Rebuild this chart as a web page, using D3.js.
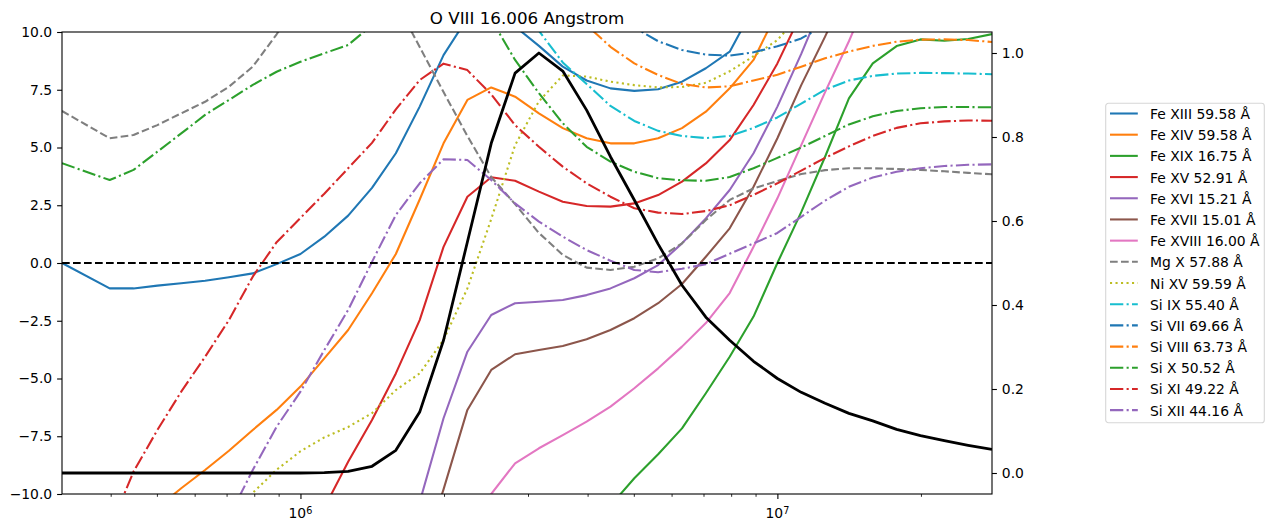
<!DOCTYPE html>
<html>
<head>
<meta charset="utf-8">
<script src="https://cdn.jsdelivr.net/npm/d3@7"></script>
<style>
body { margin: 0; background: #fff; }
svg { font-family: "DejaVu Sans", sans-serif; }
</style>
</head>
<body>
<div id="chart"></div>
<script>
const logT = [5.5, 5.6, 5.65, 5.7, 5.75, 5.8, 5.85, 5.9, 5.95, 6.0, 6.05, 6.1, 6.15, 6.2, 6.25, 6.3, 6.35, 6.4, 6.45,
    6.5, 6.55, 6.6, 6.65, 6.7, 6.75, 6.8, 6.85, 6.9, 6.95, 7.0, 7.05, 7.1, 7.15, 7.2, 7.25, 7.3, 7.35, 7.4, 7.45];

const ions = ["Fe XIII", "Fe XIV", "Fe XIX", "Fe XV", "Fe XVI", "Fe XVII", "Fe XVIII", "Mg X", "Ni XV",
    "Si IX", "Si VII", "Si VIII", "Si X", "Si XI", "Si XII"];
const wavelengths = ["59.58", "59.58", "16.75", "52.91", "15.21", "15.01", "16.00", "57.88", "59.59",
    "55.40", "69.66", "63.73", "50.52", "49.22", "44.16"];

const feXIII = [0.0, -1.10, -1.10, -0.98, -0.88, -0.77, -0.62, -0.45, -0.05, 0.39, 1.14, 2.05, 3.25, 4.75, 6.77, 9.0, 10.6, 10.9, 10.24,
    9.4, 8.5, 7.9, 7.56, 7.45, 7.52, 7.85, 8.43, 9.15, 11.06, null, null, null, null, null, null, null, null, null, null];
const feXIV = [null, null, null, -10.6, -9.75, -8.96, -8.13, -7.23, -6.36, -5.35, -4.13, -2.9, -1.31, 0.39, 2.75, 5.18, 7.06, 7.6, 7.2,
    6.48, 5.84, 5.4, 5.18, 5.18, 5.4, 5.84, 6.55, 7.56, 8.79, 10.89, null, null, null, null, null, null, null, null, null];
const feXIX = [null, null, null, null, null, null, null, null, null, null, null, null, null, null, null, null, null, null, null,
    null, null, null, -10.5, -9.32, -8.28, -7.16, -5.64, -4.06, -2.32, 0.0, 2.2, 4.6, 7.13, 8.64, 9.39, 9.68, 9.62, 9.7, 9.91];
const feXV = [null, null, null, null, null, null, null, null, null, null, -10.6, -8.6, -6.8, -4.78, -2.47, 0.7, 2.87, 3.71, 3.56,
    3.09, 2.65, 2.47, 2.44, 2.58, 2.94, 3.52, 4.31, 5.32, 6.84, 8.64, 10.8, null, null, null, null, null, null, null, null];
const feXVI = [null, null, null, null, null, null, null, null, null, null, null, null, null, null, -10.35, -6.72, -3.84, -2.25, -1.74,
    -1.68, -1.6, -1.39, -1.1, -0.66, -0.09, 0.85, 1.93, 3.16, 4.75, 6.77, 9.05, 11.5, null, null, null, null, null, null, null];
const feXVII = [null, null, null, null, null, null, null, null, null, null, null, null, null, null, -13.0, -9.8, -6.36, -4.63, -3.95,
    -3.77, -3.59, -3.3, -2.9, -2.39, -1.74, -0.91, 0.27, 1.5, 3.3, 5.4, 7.7, 9.8, 12.0, null, null, null, null, null, null];
const feXVIII = [null, null, null, null, null, null, null, null, null, null, null, null, null, null, null, null, -12.5, -10.0, -8.67,
    -8.02, -7.45, -6.87, -6.22, -5.42, -4.56, -3.62, -2.6, -1.3, 0.7, 2.8, 5.1, 7.4, 9.6, 12.0, null, null, null, null, null];
const mgX = [6.58, 5.4, 5.54, 5.97, 6.48, 6.98, 7.63, 8.5, 9.9, 11.5, null, null, null, 11.3, 9.35, 7.4, 5.5, 3.72, 2.55,
    1.3, 0.35, -0.2, -0.3, -0.16, 0.2, 0.85, 1.86, 2.73, 3.23, 3.55, 3.85, 4.02, 4.1, 4.1, 4.07, 4.03, 3.97, 3.9, 3.84];
const niXV = [null, null, null, null, null, null, -11.2, -9.95, -8.95, -8.15, -7.55, -7.1, -6.5, -5.5, -4.78, -3.33, -1.1, 1.9, 5.1,
    7.0, 8.12, 8.07, 7.85, 7.7, 7.6, 7.62, 7.8, 8.3, 8.95, 9.65, 10.8, null, null, null, null, null, null, null, null];
const siIX = [null, null, null, null, null, null, null, null, null, null, null, null, null, null, null, null, null, null, 12.0,
    10.05, 8.68, 7.75, 6.8, 6.15, 5.72, 5.5, 5.41, 5.5, 5.85, 6.3, 6.9, 7.5, 7.9, 8.1, 8.2, 8.23, 8.22, 8.2, 8.17];
const siVII = [null, null, null, null, null, null, null, null, null, null, null, null, null, null, null, null, null, null, null,
    null, null, null, 11.0, 10.2, 9.6, 9.22, 9.02, 8.98, 9.12, 9.38, 9.72, 10.3, 11.0, null, null, null, null, null, null];
const siVIII = [null, null, null, null, null, null, null, null, null, null, null, null, null, null, null, null, null, null, null,
    null, 11.5, 10.3, 9.36, 8.64, 8.14, 7.75, 7.6, 7.65, 7.9, 8.15, 8.5, 8.86, 9.15, 9.4, 9.58, 9.67, 9.68, 9.65, 9.57];
const siX = [4.32, 3.59, 4.03, 4.82, 5.61, 6.41, 7.06, 7.71, 8.28, 8.71, 9.08, 9.44, 10.3, null, null, null, null, 10.55, 8.79,
    7.35, 6.05, 5.03, 4.39, 3.95, 3.67, 3.58, 3.56, 3.72, 4.1, 4.55, 5.0, 5.5, 6.0, 6.35, 6.58, 6.7, 6.75, 6.75, 6.74];
const siXI = [null, -11.5, -9.03, -7.23, -5.57, -4.06, -2.47, -0.59, 0.9, 1.95, 3.0, 4.1, 5.2, 6.65, 7.92, 8.63, 8.35, 7.3, 5.97,
    5.03, 4.17, 3.45, 2.87, 2.37, 2.18, 2.12, 2.25, 2.5, 2.95, 3.45, 4.0, 4.55, 5.05, 5.5, 5.85, 6.05, 6.13, 6.17, 6.16];
const siXII = [null, null, null, null, null, null, -11.0, -8.96, -7.09, -5.57, -3.77, -2.03, 0.05, 2.08, 3.45, 4.49, 4.46, 3.59, 2.58,
    1.79, 1.14, 0.56, 0.1, -0.3, -0.4, -0.25, -0.05, 0.4, 0.85, 1.3, 2.0, 2.7, 3.3, 3.7, 3.95, 4.1, 4.2, 4.25, 4.27];

// O VIII 16.006 contribution function, normalised (right axis)
const oVIII = [0, 0, 0, 0, 0, 0, 0, 0, 0, 0, 0.001, 0.004, 0.016, 0.054, 0.145, 0.316, 0.55, 0.785, 0.952,
    1.0, 0.957, 0.864, 0.753, 0.65, 0.545, 0.447, 0.371, 0.316, 0.266, 0.225, 0.192, 0.166, 0.142, 0.124, 0.104, 0.089, 0.077, 0.066, 0.056];

const leftTicks = [-10, -7.5, -5, -2.5, 0, 2.5, 5, 7.5, 10];
const rightTicks = [0, 0.2, 0.4, 0.6, 0.8, 1.0];
const majorX = [1e6, 1e7];
const minorX = [4e5, 5e5, 6e5, 7e5, 8e5, 9e5, 2e6, 3e6, 4e6, 5e6, 6e6, 7e6, 8e6, 9e6, 2e7];

const seriesValues = [feXIII, feXIV, feXIX, feXV, feXVI, feXVII, feXVIII, mgX, niXV, siIX, siVII, siVIII, siX, siXI, siXII];
const colors = ["#1f77b4", "#ff7f0e", "#2ca02c", "#d62728", "#9467bd", "#8c564b", "#e377c2", "#7f7f7f", "#bcbd22",
    "#17becf", "#1f77b4", "#ff7f0e", "#2ca02c", "#d62728", "#9467bd"];
const styles = ["solid", "solid", "solid", "solid", "solid", "solid", "solid", "dashed", "dotted",
    "dashdot", "dashdot", "dashdot", "dashdot", "dashdot", "dashdot"];
const dashFor = { solid: null, dashed: "7.7,3.3", dotted: "2.1,3.4", dashdot: "13.3,3.3,2.1,3.3" };

const temperature = logT.map(t => Math.pow(10, t));
const series = ions.map((ion, i) => ({
    label: ion + " " + wavelengths[i] + " Å",
    color: colors[i],
    dash: dashFor[styles[i]],
    points: temperature.map((t, j) => ({ t: t, v: seriesValues[i][j] }))
}));

const W = 1274, H = 532;
const margin = { top: 32, right: 282, bottom: 38, left: 62 },
      width = W - margin.left - margin.right,
      height = H - margin.top - margin.bottom;

const svg = d3.select("#chart")
    .append("svg")
    .attr("width", W)
    .attr("height", H);

const x = d3.scaleLog()
    .domain([Math.pow(10, 5.5), Math.pow(10, 7.45)])
    .range([0, width]);
const yL = d3.scaleLinear().domain([-10, 10]).range([height, 0]);
const yR = d3.scaleLinear().domain([-0.05, 1.05]).range([height, 0]);

const g = svg.append("g")
    .attr("transform", `translate(${margin.left},${margin.top})`);

svg.append("defs").append("clipPath")
    .attr("id", "plot-clip")
    .append("rect")
    .attr("width", width)
    .attr("height", height);

const plot = g.append("g").attr("clip-path", "url(#plot-clip)");

const line = d3.line()
    .defined(d => d.v !== null)
    .x(d => x(d.t))
    .y(d => yL(d.v));

plot.selectAll("path.ion")
    .data(series)
    .enter()
    .append("path")
    .attr("class", "ion")
    .attr("d", d => line(d.points))
    .attr("fill", "none")
    .attr("stroke", d => d.color)
    .attr("stroke-width", 2.08)
    .attr("stroke-linejoin", "round")
    .attr("stroke-dasharray", d => d.dash);

plot.append("line")
    .attr("x1", 0)
    .attr("x2", width)
    .attr("y1", yL(0))
    .attr("y2", yL(0))
    .attr("stroke", "#000")
    .attr("stroke-width", 2.08)
    .attr("stroke-dasharray", "7.7,3.3");

const lineR = d3.line()
    .x((d, i) => x(temperature[i]))
    .y(d => yR(d));

plot.append("path")
    .attr("d", lineR(oVIII))
    .attr("fill", "none")
    .attr("stroke", "#000")
    .attr("stroke-width", 2.78)
    .attr("stroke-linejoin", "round");

// axes
const fmt = d3.format(".1f");

const leftAxis = g.append("g")
    .call(d3.axisLeft(yL).tickValues(leftTicks).tickSize(4.9).tickPadding(4.9).tickSizeOuter(0).tickFormat(fmt));

const rightAxis = g.append("g")
    .attr("transform", `translate(${width},0)`)
    .call(d3.axisRight(yR).tickValues(rightTicks).tickSize(4.9).tickPadding(4.9).tickSizeOuter(0).tickFormat(fmt));

const bottomMinor = g.append("g")
    .attr("transform", `translate(0,${height})`)
    .call(d3.axisBottom(x).tickValues(minorX).tickSize(2.8).tickSizeOuter(0).tickFormat(""));
bottomMinor.selectAll(".tick line").attr("stroke-width", 0.83);

const bottomMajor = g.append("g")
    .attr("transform", `translate(0,${height})`)
    .call(d3.axisBottom(x).tickValues(majorX).tickSize(4.9).tickSizeOuter(0).tickFormat(""));

g.selectAll(".domain").remove();
g.selectAll(".tick line").filter(function() { return d3.select(this).attr("stroke-width") === null; })
    .attr("stroke-width", 1.1);
g.selectAll(".tick text")
    .attr("font-family", "DejaVu Sans")
    .attr("font-size", 13.9)
    .attr("fill", "#000");

const xLabels = g.append("g")
    .selectAll("text")
    .data(majorX)
    .enter()
    .append("text")
    .attr("x", d => x(d))
    .attr("y", height + 24.3)
    .attr("text-anchor", "middle")
    .attr("font-size", 13.9);
xLabels.append("tspan").text("10");
xLabels.append("tspan")
    .attr("dy", -4.5)
    .attr("font-size", 9.7)
    .text(d => Math.round(Math.log10(d)));

g.append("rect")
    .attr("width", width)
    .attr("height", height)
    .attr("fill", "none")
    .attr("stroke", "#000")
    .attr("stroke-width", 1.1);

svg.append("text")
    .attr("x", margin.left + width / 2)
    .attr("y", 24)
    .attr("text-anchor", "middle")
    .attr("font-size", 16.7)
    .text("O VIII 16.006 Angstrom");

// legend
const legend = svg.append("g").attr("transform", "translate(1105.7,103.3)");
legend.append("rect")
    .attr("width", 158.6)
    .attr("height", 319.4)
    .attr("rx", 2.8)
    .attr("fill", "#fff")
    .attr("stroke", "#d6d6d6")
    .attr("stroke-width", 1.1);

const rows = legend.selectAll("g.row")
    .data(series)
    .enter()
    .append("g")
    .attr("class", "row")
    .attr("transform", (d, i) => `translate(0,${10.2 + i * 21.19})`);

rows.append("line")
    .attr("x1", 4.3)
    .attr("x2", 32.1)
    .attr("stroke", d => d.color)
    .attr("stroke-width", 2.08)
    .attr("stroke-dasharray", d => d.dash);

rows.append("text")
    .attr("x", 44.3)
    .attr("y", 5.5)
    .attr("font-size", 13.9)
    .text(d => d.label);
</script>
</body>
</html>
